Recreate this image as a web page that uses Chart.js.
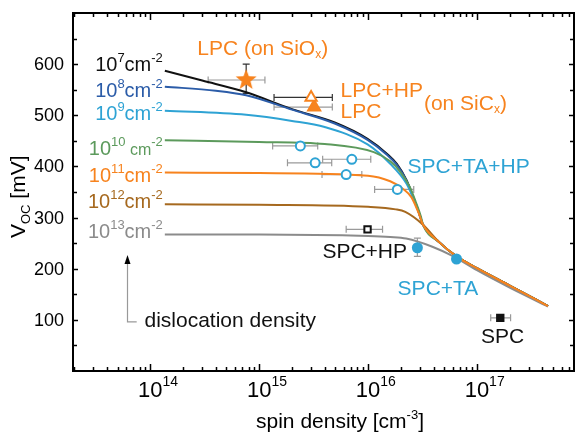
<!DOCTYPE html>
<html>
<head>
<meta charset="utf-8">
<script src="https://cdn.jsdelivr.net/npm/chart.js@4.4.0/dist/chart.umd.min.js"></script>
<style>
  body { margin: 0; background: #fff; }
  #wrap { width: 587px; height: 433px; }
</style>
</head>
<body>
<div id="wrap"><canvas id="chart" width="587" height="433"></canvas></div>
<script>
const FONT = '"Liberation Sans", Arial, sans-serif';

// model curves (spin density [cm-3] -> Voc [mV]), one per dislocation density
const tailX = [3.2e16, 4.5e16, 6.5e16, 1e17, 2e17, 4.5e17];
const tailY = [286, 252, 224, 201, 167, 127];

const d7X = [1.36e14, 3e14, 7.6e14, 2e15, 4.94e15, 9.9e15, 1.49e16, 1.84e16, 2.26e16, 2.6e16, 2.88e16];
const d7Y = [587, 568, 545, 512, 486, 454, 425, 405, 373, 340, 315];
const d8X = [1.36e14, 4e14, 7.6e14, 2e15, 4.94e15, 9.9e15, 1.49e16, 1.84e16, 2.26e16, 2.6e16, 2.88e16];
const d8Y = [556, 548, 539, 511, 484, 452, 423, 403, 372, 340, 315];
const d9X = [1.36e14, 7.6e14, 2e15, 4e15, 9.9e15, 1.6e16, 2.26e16, 2.6e16, 2.88e16];
const d9Y = [509, 501, 489, 477, 443, 405, 366, 338, 314];
const d10X = [1.36e14, 1e15, 4e15, 1.13e16, 1.6e16, 1.97e16, 2.42e16, 2.75e16, 3.06e16];
const d10Y = [451, 448, 444, 428, 410, 390, 360, 330, 302];
const d11X = [1.36e14, 1e15, 1e16, 1.6e16, 2.1e16, 2.5e16, 2.89e16];
const d11Y = [388, 387, 382, 371, 356, 340, 311];
const d12X = [1.36e14, 1e15, 1e16, 1.8e16, 2.2e16];
const d12Y = [326, 325, 321, 316, 311];
const d13X = [1.36e14, 1e15, 1e16, 1.6e16, 2.24e16, 3.9e16, 5.96e16, 1e17, 2e17, 4.5e17];
const d13Y = [267, 267, 264, 262, 259, 243, 225, 197, 163, 126];

const curveExp = ['7', '8', '9', '10', '11', '12', '13'];
const curveLabelY = [587, 536, 490, 422, 370, 318, 260];

// measured samples with error ranges
const lpcSiOxX = [7.6e14], lpcSiOxY = [569];
const lpcSiOxXErr = [[3.4e14, 1.13e15]], lpcSiOxYErr = [[543, 600]];
const lpcHpX = [3.0e15], lpcHpY = [535], lpcHpXErr = [[1.37e15, 4.7e15]];
const lpcX = [3.2e15], lpcY = [516], lpcXErr = [[1.37e15, 4.7e15]];
const spcTaHpX = [2.39e15, 3.27e15, 7.1e15, 6.3e15, 1.86e16];
const spcTaHpY = [440, 407, 414, 384, 355];
const spcTaHpXErr = [[1.33e15, 3.45e15], [1.82e15, 4.64e15], [3.83e15, 1.06e16], [3.78e15, 8.77e15], [1.15e16, 2.63e16]];
const spcHpX = [9.9e15], spcHpY = [277], spcHpXErr = [[6.3e15, 1.36e16]];
const spcTaX = [2.84e16, 6.5e16], spcTaY = [241, 219], spcTaYErr = [[224, 260], null];
const spcX = [1.64e17], spcY = [104], spcXErr = [[1.34e17, 2.04e17]];

// axis ticks
const xDecades = [1e14, 1e15, 1e16, 1e17];
const yTicks = [100, 200, 300, 400, 500, 600];
const yMinor = [50, 150, 250, 350, 450, 550, 650];

const BLACK = '#111111', DKBLUE = '#2b5ca8', LTBLUE = '#2ea3d4', GREEN = '#5c9a5c',
  ORANGE = '#f7831e', BROWN = '#a6691f', GRAY = '#8b8b8b', ERR = '#9a9a9a';

function pts(xs, ys) {
  return xs.map((x, i) => ({ x: x, y: ys[i] }));
}

function curve(xs, ys, color, withTail) {
  let data = pts(xs, ys);
  if (withTail) data = data.concat(pts(tailX, tailY));
  return {
    data: data, showLine: true, borderColor: color, borderWidth: 2,
    pointRadius: 0, cubicInterpolationMode: 'monotone', order: 2
  };
}

function marker(xs, ys, style, radius, fill, stroke, extra) {
  return Object.assign({
    data: pts(xs, ys), showLine: false, pointStyle: style, pointRadius: radius,
    backgroundColor: fill, borderColor: stroke, borderWidth: 2, order: 1
  }, extra || {});
}

function makeStar(r, color) {
  const c = document.createElement('canvas');
  c.width = c.height = r * 2 + 2;
  const g = c.getContext('2d');
  g.fillStyle = color;
  g.beginPath();
  for (let i = 0; i < 10; i++) {
    const rad = i % 2 === 0 ? r : r * 0.42;
    const a = -Math.PI / 2 + i * Math.PI / 5;
    g.lineTo(c.width / 2 + rad * Math.cos(a), c.height / 2 + rad * Math.sin(a));
  }
  g.closePath();
  g.fill();
  return c;
}

// text with super/subscripts: parts = [text, size, dy]
function drawRich(ctx, parts, x, y, align, color) {
  let w = 0;
  parts.forEach(p => { ctx.font = p[1] + 'px ' + FONT; w += ctx.measureText(p[0]).width; });
  let cx = align === 'right' ? x - w : align === 'center' ? x - w / 2 : x;
  ctx.fillStyle = color;
  ctx.textAlign = 'left';
  ctx.textBaseline = 'alphabetic';
  parts.forEach(p => {
    ctx.font = p[1] + 'px ' + FONT;
    ctx.fillText(p[0], cx, y + (p[2] || 0));
    cx += ctx.measureText(p[0]).width;
  });
}

const notes = [
  { parts: [['LPC (on SiO', 21], ['x', 12, 3], [')', 21]], x: 2.7e14, y: 618, color: ORANGE },
  { parts: [['LPC+HP', 21]], x: 5.6e15, y: 536, color: ORANGE },
  { parts: [['(on SiC', 21], ['x', 12, 3], [')', 21]], x: 3.26e16, y: 510, color: ORANGE },
  { parts: [['LPC', 21]], x: 5.6e15, y: 495, color: ORANGE },
  { parts: [['SPC+TA+HP', 21]], x: 2.31e16, y: 387, color: LTBLUE },
  { parts: [['SPC+HP', 21]], x: 3.81e15, y: 221, color: BLACK },
  { parts: [['SPC+TA', 21]], x: 1.87e16, y: 149, color: LTBLUE },
  { parts: [['SPC', 21]], x: 1.09e17, y: 55, color: BLACK },
  { parts: [['dislocation density', 21]], x: 8.84e13, y: 87, color: BLACK }
];
const arrowX = [6.08e13, 7.5e13];
const arrowY = [96, 227];

const curves = [
  curve(d11X, d11Y, ORANGE, true),
  curve(d13X, d13Y, GRAY, false),
  curve(d12X, d12Y, BROWN, true),
  curve(d10X, d10Y, GREEN, true),
  curve(d9X, d9Y, LTBLUE, true),
  curve(d8X, d8Y, DKBLUE, true),
  curve(d7X, d7Y, BLACK, true)
];
const curveColors = [BLACK, DKBLUE, LTBLUE, GREEN, ORANGE, BROWN, GRAY];

const markers = [
  marker(lpcSiOxX, lpcSiOxY, makeStar(11, ORANGE), 11, ORANGE, ORANGE,
    { errX: lpcSiOxXErr, errY: lpcSiOxYErr, errYColor: '#333' }),
  marker(lpcHpX, lpcHpY, 'triangle', 6.5, '#fff', ORANGE, { errX: lpcHpXErr, errXColor: '#333' }),
  marker(lpcX, lpcY, 'triangle', 7, ORANGE, ORANGE, { errX: lpcXErr }),
  marker(spcTaHpX, spcTaHpY, 'circle', 4.5, '#fff', LTBLUE, { errX: spcTaHpXErr }),
  marker(spcHpX, spcHpY, 'rect', 4.5, '#fff', BLACK, { errX: spcHpXErr }),
  marker(spcTaX, spcTaY, 'circle', 5.5, LTBLUE, LTBLUE, { errY: spcTaYErr, borderWidth: 0 }),
  marker(spcX, spcY, 'rect', 4.5, BLACK, BLACK, { errX: spcXErr })
];

const errorBars = {
  id: 'errorBars',
  beforeDatasetsDraw(chart) {
    const { ctx, scales: { x, y } } = chart;
    ctx.save();
    ctx.lineWidth = 1.2;
    chart.data.datasets.forEach(ds => {
      ds.data.forEach((p, i) => {
        const px = x.getPixelForValue(p.x), py = y.getPixelForValue(p.y);
        if (ds.errX && ds.errX[i]) {
          const a = x.getPixelForValue(ds.errX[i][0]), b = x.getPixelForValue(ds.errX[i][1]);
          ctx.strokeStyle = ds.errXColor || ERR;
          ctx.beginPath();
          ctx.moveTo(a, py); ctx.lineTo(b, py);
          ctx.moveTo(a, py - 3.5); ctx.lineTo(a, py + 3.5);
          ctx.moveTo(b, py - 3.5); ctx.lineTo(b, py + 3.5);
          ctx.stroke();
        }
        if (ds.errY && ds.errY[i]) {
          const a = y.getPixelForValue(ds.errY[i][0]), b = y.getPixelForValue(ds.errY[i][1]);
          ctx.strokeStyle = ds.errYColor || ERR;
          ctx.beginPath();
          ctx.moveTo(px, a); ctx.lineTo(px, b);
          ctx.moveTo(px - 3.5, a); ctx.lineTo(px + 3.5, a);
          ctx.moveTo(px - 3.5, b); ctx.lineTo(px + 3.5, b);
          ctx.stroke();
        }
      });
    });
    ctx.restore();
  }
};

const frame = {
  id: 'frame',
  afterDraw(chart) {
    const { ctx, chartArea: a, scales: { x, y } } = chart;
    ctx.save();
    ctx.strokeStyle = '#000';
    ctx.lineWidth = 1.5;
    ctx.beginPath();
    // log ticks on bottom and top, pointing inward
    for (let e = 13; e <= 17; e++) {
      for (let m = 1; m <= 9; m++) {
        const v = m * Math.pow(10, e);
        if (v < x.min || v > x.max) continue;
        const px = Math.round(x.getPixelForValue(v)) + 0.5;
        const len = m === 1 ? 7 : 4;
        ctx.moveTo(px, a.bottom); ctx.lineTo(px, a.bottom - len);
        ctx.moveTo(px, a.top); ctx.lineTo(px, a.top + len);
      }
    }
    yTicks.concat(yMinor).forEach(v => {
      const py = Math.round(y.getPixelForValue(v)) + 0.5;
      const len = yTicks.includes(v) ? 5 : 4;
      ctx.moveTo(a.left, py); ctx.lineTo(a.left + len, py);
      ctx.moveTo(a.right, py); ctx.lineTo(a.right - len, py);
    });
    ctx.stroke();
    ctx.lineWidth = 2;
    ctx.strokeRect(a.left, a.top, a.right - a.left, a.bottom - a.top);

    // tick labels
    ctx.fillStyle = '#000';
    ctx.font = '18px ' + FONT;
    ctx.textAlign = 'right';
    ctx.textBaseline = 'middle';
    yTicks.forEach(v => ctx.fillText(String(v), a.left - 9, y.getPixelForValue(v) + 1));
    xDecades.forEach(v => {
      const px = x.getPixelForValue(v);
      ctx.font = '22px ' + FONT;
      const w = ctx.measureText('10').width;
      drawRich(ctx, [['10', 22], [String(Math.round(Math.log10(v))), 14, -11]], px - w / 2, 397, 'left', '#000');
    });

    // axis titles
    drawRich(ctx, [['spin density [cm', 21], ['-3', 13, -9], [']', 21]], 340, 428, 'center', '#000');
    ctx.save();
    ctx.translate(25, 238);
    ctx.rotate(-Math.PI / 2);
    drawRich(ctx, [['V', 21], ['OC', 13, 5], [' [mV]', 21]], 0, 0, 'left', '#000');
    ctx.restore();

    // curve labels, right-aligned at the start of each curve
    curveExp.forEach((e, i) => {
      const px = x.getPixelForValue(d7X[0]) - 2;
      const py = y.getPixelForValue(curveLabelY[i]);
      const parts = e === '10'
        ? [['10', 20], [e, 13, -9], [' cm', 16], ['-2', 13, -9]]
        : [['10', 20], [e, 13, -9], ['cm', 20], ['-2', 13, -9]];
      drawRich(ctx, parts, px, py, 'right', curveColors[i]);
    });

    // annotations
    notes.forEach(n => drawRich(ctx, n.parts, x.getPixelForValue(n.x), y.getPixelForValue(n.y), 'left', n.color));

    // dislocation density arrow
    const ax = Math.round(x.getPixelForValue(arrowX[0])) + 0.5;
    const ax2 = x.getPixelForValue(arrowX[1]);
    const ay0 = y.getPixelForValue(arrowY[0]), ay1 = y.getPixelForValue(arrowY[1]);
    ctx.strokeStyle = '#999';
    ctx.lineWidth = 1.2;
    ctx.beginPath();
    ctx.moveTo(ax2, ay0); ctx.lineTo(ax, ay0); ctx.lineTo(ax, ay1 + 8);
    ctx.stroke();
    ctx.fillStyle = '#000';
    ctx.beginPath();
    ctx.moveTo(ax, ay1); ctx.lineTo(ax - 3, ay1 + 9); ctx.lineTo(ax + 3, ay1 + 9);
    ctx.closePath();
    ctx.fill();
    ctx.restore();
  }
};

new Chart(document.getElementById('chart'), {
  type: 'scatter',
  data: { datasets: markers.concat(curves) },
  options: {
    responsive: false,
    animation: false,
    layout: { padding: { left: 73, right: 2, top: 13, bottom: 62 } },
    scales: {
      x: { type: 'logarithmic', min: 1.95e13, max: 7.8e17, display: false },
      y: { type: 'linear', min: 0, max: 700, display: false }
    },
    plugins: { legend: { display: false }, tooltip: { enabled: false } }
  },
  plugins: [errorBars, frame]
});
</script>
</body>
</html>
